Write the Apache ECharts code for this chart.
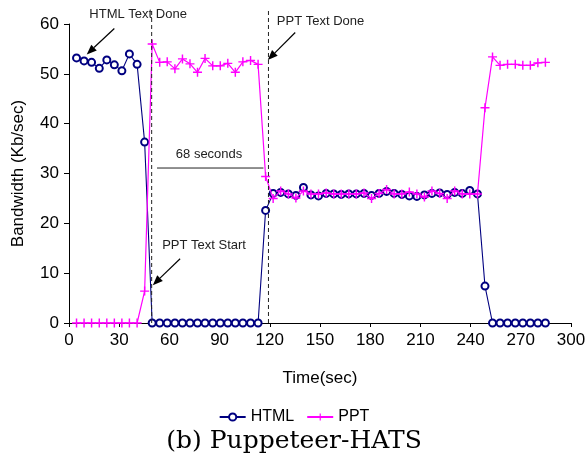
<!DOCTYPE html>
<html>
<head>
<meta charset="utf-8">
<script src="https://cdn.jsdelivr.net/npm/echarts@6/dist/echarts.min.js"></script>
<style>
html,body{margin:0;padding:0;background:#fff;}
#chart{width:588px;height:463px;}
</style>
</head>
<body>
<div id="chart"></div>
<script>
/* sample times (sec) */
const times = [4.5,9.0,13.5,18.1,22.6,27.1,31.6,36.1,40.7,45.2,
               49.7,54.2,58.7,63.3,67.8,72.3,76.8,81.3,85.9,90.4,
               94.9,99.4,103.9,108.5,113.0,117.5,122.0,126.5,131.1,135.6,
               140.1,144.6,149.1,153.7,158.2,162.7,167.2,171.7,176.3,180.8,
               185.3,189.8,194.3,198.9,203.4,207.9,212.4,216.9,221.5,226.0,
               230.5,235.0,239.5,244.1,248.6,253.1,257.6,262.1,266.7,271.2,
               275.7,280.2,284.7];

/* bandwidth (Kb/sec) */
const htmlVals = [53.2,52.6,52.3,51.1,52.8,51.8,50.6,54.0,51.9,36.3,
                  0,0,0,0,0,0,0,0,0,0,0,0,0,0,0,
                  22.6,
                  26.0,26.2,25.9,25.6,27.2,25.7,25.5,26.0,25.9,25.8,
                  25.9,25.9,26.0,25.6,26.0,26.4,26.0,25.8,25.5,25.4,
                  25.7,26.0,26.1,25.8,26.2,26.0,26.6,25.9,
                  7.4,
                  0,0,0,0,0,0,0,0];
const pptVals = [0,0,0,0,0,0,0,0,0,6.4,
                 56.0,
                 52.3,52.4,51.0,53.0,52.0,50.3,53.1,51.6,51.6,52.1,50.3,52.4,52.7,51.9,
                 29.4,
                 25.0,26.5,25.9,25.1,26.5,25.9,25.9,26.1,25.9,25.9,
                 25.9,25.9,26.1,25.0,26.0,26.8,25.9,25.9,26.3,25.9,
                 25.3,26.5,26.0,25.0,26.5,25.9,25.9,25.9,
                 43.2,53.4,
                 51.7,51.9,51.9,51.7,51.7,52.2,52.3];

/* event times for the dashed lines */
const htmlDoneAt = 49.4, pptDoneAt = 119.2;

const FONT = '"Liberation Sans", Arial, sans-serif';
const plusSymbol = 'path://M4.2,0h1.6v4.2h4.2v1.6h-4.2v4.2h-1.6v-4.2h-4.2v-1.6h4.2z';

const pair = vals => vals.map((v,i)=>[times[i],v]);

const chart = echarts.init(document.getElementById("chart"));

chart.setOption({
	backgroundColor:"#fff",
	animation:false,
	grid:{left:69,right:17,top:24,bottom:140,outerBoundsMode:"none",containLabel:false},
	title:{
		text:"(b) Puppeteer-HATS",
		left:"center",
		top:424,
		textStyle:{fontFamily:'"DejaVu Serif", serif',fontSize:25,fontWeight:"normal",color:"#000"}
	},
	legend:{
		bottom:33,
		left:"center",
		itemWidth:26,
		itemHeight:9,
		itemGap:12,
		textStyle:{fontFamily:FONT,fontSize:16,color:"#000"},
		data:["HTML","PPT"]
	},
	xAxis:{
		type:"value",
		min:0,max:300,interval:30,
		name:"Time(sec)",
		nameLocation:"middle",
		nameGap:47,
		nameTextStyle:{fontFamily:FONT,fontSize:17,color:"#000"},
		axisLine:{lineStyle:{color:"#000",width:1}},
		axisTick:{length:4,lineStyle:{color:"#000"}},
		axisLabel:{fontFamily:FONT,fontSize:17,color:"#000",margin:9},
		splitLine:{show:false}
	},
	yAxis:{
		type:"value",
		min:0,max:60,interval:10,
		name:"Bandwidth (Kb/sec)",
		nameLocation:"middle",
		nameGap:42,
		nameTextStyle:{fontFamily:FONT,fontSize:17,color:"#000"},
		axisLine:{show:true,lineStyle:{color:"#000",width:1}},
		axisTick:{show:true,length:5,lineStyle:{color:"#000"}},
		axisLabel:{fontFamily:FONT,fontSize:17,color:"#000",margin:10},
		splitLine:{show:false}
	},
	series:[
		{
			name:"HTML",
			type:"line",
			data:pair(htmlVals),
			symbol:"emptyCircle",
			symbolSize:7,
			color:"#000080",
			lineStyle:{width:1.1,color:"#000080"},
			itemStyle:{color:"#000080",borderWidth:1},
			z:2
		},
		{
			name:"PPT",
			type:"line",
			data:pair(pptVals),
			symbol:plusSymbol,
			symbolSize:9,
			color:"#ff00ff",
			lineStyle:{width:1.2,color:"#ff00ff"},
			itemStyle:{color:"#ff00ff"},
			z:3
		}
	]
});

/* annotations, placed in data units */
const px = p => chart.convertToPixel({gridIndex:0},p);

function arrow(from,to){
	const a = px(from), b = px(to);
	const dx = b[0]-a[0], dy = b[1]-a[1];
	const len = Math.hypot(dx,dy), ux = dx/len, uy = dy/len;
	const hl = 10, hw = 4;
	const base = [b[0]-ux*hl, b[1]-uy*hl];
	return [
		{type:"line",z:100,shape:{x1:a[0],y1:a[1],x2:base[0],y2:base[1]},style:{stroke:"#000",lineWidth:1.2}},
		{type:"polygon",z:100,shape:{points:[b,[base[0]-uy*hw,base[1]+ux*hw],[base[0]+uy*hw,base[1]-ux*hw]]},style:{fill:"#000"}}
	];
}
function label(text,at){
	const p = px(at);
	return {type:"text",z:100,x:p[0],y:p[1],
		style:{text,font:'13px '+FONT,fill:"#222",align:"center",verticalAlign:"middle"}};
}
function dashed(t){
	const a = px([t,0]), b = px([t,62.7]);
	return {type:"line",z:90,shape:{x1:a[0],y1:a[1],x2:b[0],y2:b[1]},
		style:{stroke:"#222",lineWidth:1,lineDash:[4,3]}};
}
function hline(t1,t2,v){
	const a = px([t1,v]), b = px([t2,v]);
	return {type:"line",z:100,shape:{x1:a[0],y1:a[1],x2:b[0],y2:b[1]},style:{stroke:"#222",lineWidth:1}};
}

chart.setOption({
	graphic:[
		dashed(htmlDoneAt),
		dashed(pptDoneAt),
		label("HTML Text Done",[41.3,62.0]),
		...arrow([27.1,59.1],[10.6,53.9]),
		label("PPT Text Done",[150.3,60.5]),
		...arrow([135.2,58.3],[118.8,52.8]),
		label("PPT Text Start",[80.7,15.5]),
		...arrow([66.4,12.9],[50.1,7.6]),
		hline(52.6,116.2,31.1),
		label("68 seconds",[83.7,33.8])
	]
});
</script>
</body>
</html>
